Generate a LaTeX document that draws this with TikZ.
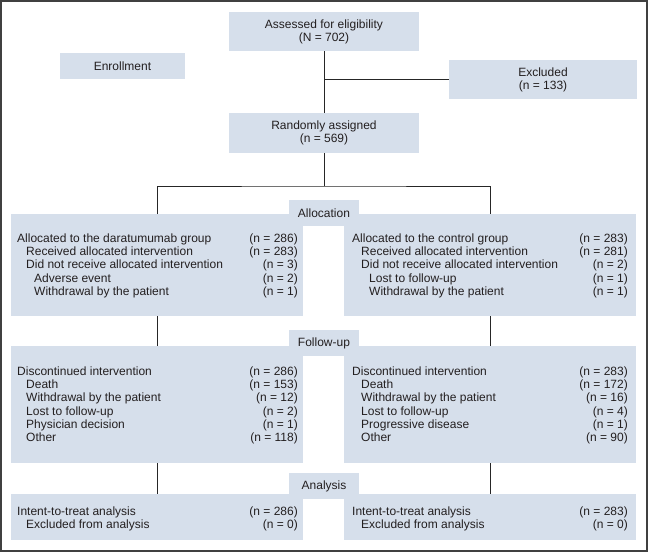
\documentclass[tikz,border=0pt]{standalone}
\usepackage{fontspec}
\setmainfont{Liberation Sans}
\definecolor{boxfill}{RGB}{214,223,235}
\definecolor{inkgray}{RGB}{35,31,32}
\tikzset{
  box/.style={fill=boxfill,inner sep=0pt,outer sep=0pt,align=center,font=\fontsize{12}{13}\selectfont},
  row/.style={inner sep=0pt,anchor=base west,font=\fontsize{12}{13}\selectfont},
  num/.style={inner sep=0pt,anchor=base east,font=\fontsize{12}{13}\selectfont},
  link/.style={draw=black!85,line width=1pt},
}
\begin{document}
\begin{tikzpicture}[x=1pt,y=-1pt,text=inkgray]
  \useasboundingbox (0,0) rectangle (649,552);
  \draw[line width=1.5pt,draw=black!75] (1,1) rectangle (647.2,551);

  % enrollment
  \node[box,minimum width=125pt,minimum height=26pt] (enroll) at (122.5,66) {Enrollment};
  \node[box,minimum width=190pt,minimum height=39pt] (assess) at (324,31.5) {Assessed for eligibility\\(N = 702)};
  \node[box,minimum width=188pt,minimum height=39pt] (excl) at (543,79.7) {Excluded\\(n = 133)};
  \node[box,minimum width=190pt,minimum height=40pt] (rand) at (324,133) {Randomly assigned\\(n = 569)};
  \coordinate (split) at (324,186);

  % group boxes
  \node[box,minimum width=292pt,minimum height=102pt] (allocL) at (157,265) {};
  \node[box,minimum width=292pt,minimum height=102pt] (allocR) at (490,265) {};
  \node[box,minimum width=292pt,minimum height=117pt] (followL) at (157,404.5) {};
  \node[box,minimum width=292pt,minimum height=117pt] (followR) at (490,404.5) {};
  \node[box,minimum width=292pt,minimum height=46pt] (analL) at (157,517) {};
  \node[box,minimum width=292pt,minimum height=46pt] (analR) at (490,517) {};

  % stage labels
  \node[box,minimum width=70pt,minimum height=26pt] (alloc) at (324,213) {Allocation};
  \node[box,minimum width=70pt,minimum height=26pt] (follow) at (324,343) {Follow-up};
  \node[box,minimum width=70pt,minimum height=26pt] (anal) at (324,486) {Analysis};

  % connectors
  \draw[link] (assess) -- (rand);
  \draw[link] (excl.west) -- (excl.west -| assess);
  \draw[link] (rand) -- (split);
  \draw[link] (allocL.north) |- (split) -| (allocR.north);
  \draw[link] (allocL) -- (followL);
  \draw[link] (allocR) -- (followR);
  \draw[link] (followL) -- (analL);
  \draw[link] (followR) -- (analR);

  % allocation rows
  \node[row] (aL1) at (17,242.3) {Allocated to the daratumumab group};
  \node[row] (aL2) at (26,255.6) {Received allocated intervention};
  \node[row] (aL3) at (26,268.9) {Did not receive allocated intervention};
  \node[row] (aL4) at (34,282.2) {Adverse event};
  \node[row] (aL5) at (34,295.5) {Withdrawal by the patient};
  \node[num] (aL1n) at (298,242.3) {(n = 286)};
  \node[num] (aL2n) at (298,255.6) {(n = 283)};
  \node[num] (aL3n) at (298,268.9) {(n = 3)};
  \node[num] (aL4n) at (298,282.2) {(n = 2)};
  \node[num] (aL5n) at (298,295.5) {(n = 1)};

  \node[row] (aR1) at (352,242.3) {Allocated to the control group};
  \node[row] (aR2) at (361,255.6) {Received allocated intervention};
  \node[row] (aR3) at (361,268.9) {Did not receive allocated intervention};
  \node[row] (aR4) at (369,282.2) {Lost to follow-up};
  \node[row] (aR5) at (369,295.5) {Withdrawal by the patient};
  \node[num] (aR1n) at (628,242.3) {(n = 283)};
  \node[num] (aR2n) at (628,255.6) {(n = 281)};
  \node[num] (aR3n) at (628,268.9) {(n = 2)};
  \node[num] (aR4n) at (628,282.2) {(n = 1)};
  \node[num] (aR5n) at (628,295.5) {(n = 1)};

  % follow-up rows
  \node[row] (fL1) at (17,375.5) {Discontinued intervention};
  \node[row] (fL2) at (26,388.7) {Death};
  \node[row] (fL3) at (26,401.9) {Withdrawal by the patient};
  \node[row] (fL4) at (26,415.1) {Lost to follow-up};
  \node[row] (fL5) at (26,428.3) {Physician decision};
  \node[row] (fL6) at (26,441.5) {Other};
  \node[num] (fL1n) at (298,375.5) {(n = 286)};
  \node[num] (fL2n) at (298,388.7) {(n = 153)};
  \node[num] (fL3n) at (298,401.9) {(n = 12)};
  \node[num] (fL4n) at (298,415.1) {(n = 2)};
  \node[num] (fL5n) at (298,428.3) {(n = 1)};
  \node[num] (fL6n) at (298,441.5) {(n = 118)};

  \node[row] (fR1) at (352,375.5) {Discontinued intervention};
  \node[row] (fR2) at (361,388.7) {Death};
  \node[row] (fR3) at (361,401.9) {Withdrawal by the patient};
  \node[row] (fR4) at (361,415.1) {Lost to follow-up};
  \node[row] (fR5) at (361,428.3) {Progressive disease};
  \node[row] (fR6) at (361,441.5) {Other};
  \node[num] (fR1n) at (628,375.5) {(n = 283)};
  \node[num] (fR2n) at (628,388.7) {(n = 172)};
  \node[num] (fR3n) at (628,401.9) {(n = 16)};
  \node[num] (fR4n) at (628,415.1) {(n = 4)};
  \node[num] (fR5n) at (628,428.3) {(n = 1)};
  \node[num] (fR6n) at (628,441.5) {(n = 90)};

  % analysis rows
  \node[row] (nL1) at (17,515) {Intent-to-treat analysis};
  \node[row] (nL2) at (26,528) {Excluded from analysis};
  \node[num] (nL1n) at (298,515) {(n = 286)};
  \node[num] (nL2n) at (298,528) {(n = 0)};

  \node[row] (nR1) at (352,515) {Intent-to-treat analysis};
  \node[row] (nR2) at (361,528) {Excluded from analysis};
  \node[num] (nR1n) at (628,515) {(n = 283)};
  \node[num] (nR2n) at (628,528) {(n = 0)};
\end{tikzpicture}
\end{document}
